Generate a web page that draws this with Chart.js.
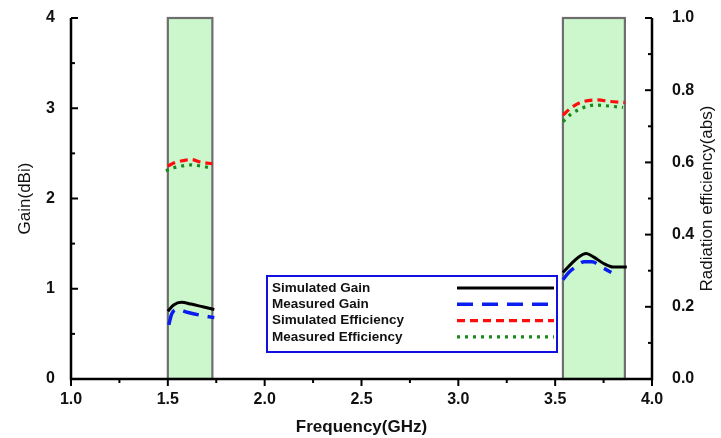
<!DOCTYPE html>
<html><head><meta charset="utf-8">
<script src="https://cdn.jsdelivr.net/npm/chart.js@4"></script>
<style>html,body{margin:0;padding:0;background:#fff}#wrap{width:721px;height:438px}</style>
</head><body><div id="wrap"><canvas id="c" width="721" height="438"></canvas></div>
<script>
const xTicks = [1.0, 1.5, 2.0, 2.5, 3.0, 3.5, 4.0];
const gainTicks = [0, 1, 2, 3, 4];
const effTicks = [0.0, 0.2, 0.4, 0.6, 0.8, 1.0];
const bands = [[1.5, 1.73], [3.54, 3.86]];
const xTitle = 'Frequency(GHz)';
const yTitle = 'Gain(dBi)';
const y2Title = 'Radiation efficiency(abs)';
// band 1
const simGainX1 = [1.50, 1.53, 1.57, 1.62, 1.68, 1.74];
const simGainY1 = [0.75, 0.82, 0.85, 0.83, 0.80, 0.77];
const measGainX1 = [1.505, 1.52, 1.55, 1.60, 1.66, 1.74];
const measGainY1 = [0.60, 0.72, 0.77, 0.74, 0.71, 0.68];
const simEffX1 = [1.50, 1.54, 1.58, 1.62, 1.67, 1.73];
const simEffY1 = [0.590, 0.600, 0.605, 0.608, 0.601, 0.596];
const measEffX1 = [1.49, 1.53, 1.57, 1.62, 1.67, 1.71];
const measEffY1 = [0.577, 0.585, 0.590, 0.593, 0.590, 0.586];
// band 2
const simGainX2 = [3.54, 3.58, 3.62, 3.66, 3.70, 3.75, 3.80, 3.87];
const simGainY2 = [1.18, 1.27, 1.35, 1.39, 1.35, 1.28, 1.24, 1.24];
const measGainX2 = [3.54, 3.57, 3.61, 3.65, 3.69, 3.74, 3.79];
const measGainY2 = [1.10, 1.18, 1.25, 1.30, 1.30, 1.24, 1.18];
const simEffX2 = [3.54, 3.58, 3.63, 3.68, 3.72, 3.78, 3.86];
const simEffY2 = [0.731, 0.750, 0.766, 0.772, 0.773, 0.769, 0.766];
const measEffX2 = [3.54, 3.58, 3.62, 3.67, 3.71, 3.76, 3.82, 3.85];
const measEffY2 = [0.713, 0.733, 0.746, 0.756, 0.759, 0.757, 0.754, 0.752];

const names = ['Simulated Gain', 'Measured Gain', 'Simulated Efficiency', 'Measured Efficiency'];
const colors = ['#000000', '#0a1ef0', '#ff0d0d', '#1a8a1a'];
const dashes = [[], [16, 9], [8, 5], [3, 5]];
const widths = [3, 3.5, 3.2, 3.2];

const pts = (xs, ys) => xs.map((x, i) => ({x, y: ys[i]}));
const FONT = '"Liberation Sans", Arial, sans-serif';

function ds(idx, data, axis) {
  return {label: names[idx], data, yAxisID: axis, borderColor: colors[idx], borderDash: dashes[idx],
    borderWidth: widths[idx], pointRadius: 0, tension: 0.4, cubicInterpolationMode: 'monotone', fill: false};
}

const bandPlugin = {
  id: 'bands',
  beforeDatasetsDraw(chart) {
    const {ctx, chartArea: a, scales: {x}} = chart;
    ctx.save();
    bands.forEach(([b0, b1]) => {
      const x0 = x.getPixelForValue(b0), x1 = x.getPixelForValue(b1);
      ctx.fillStyle = '#ccf7cc';
      ctx.fillRect(x0, a.top, x1 - x0, a.bottom - a.top);
      ctx.strokeStyle = '#6e6e6e'; ctx.lineWidth = 2.2;
      ctx.strokeRect(x0, a.top, x1 - x0, a.bottom - a.top);
    });
    ctx.restore();
  },
  afterDatasetsDraw(chart) {
    const {ctx, chartArea: a, scales: {x, y, y2}} = chart;
    ctx.save();
    ctx.strokeStyle = '#000'; ctx.lineWidth = 2.5;
    ctx.beginPath();
    ctx.moveTo(a.left, a.top); ctx.lineTo(a.left, a.bottom); ctx.lineTo(a.right, a.bottom); ctx.lineTo(a.right, a.top);
    ctx.stroke();
    ctx.lineWidth = 2;
    for (let v = 1.0; v <= 4.0001; v += 0.25) {
      const px = x.getPixelForValue(v);
      const major = Math.abs(v * 2 - Math.round(v * 2)) < 1e-6;
      ctx.beginPath(); ctx.moveTo(px, a.bottom); ctx.lineTo(px, a.bottom + (major ? 7 : 4)); ctx.stroke();
    }
    for (let v = 0; v <= 4.0001; v += 0.5) {
      const py = y.getPixelForValue(v);
      const major = Math.abs(v - Math.round(v)) < 1e-6;
      ctx.beginPath(); ctx.moveTo(a.left, py); ctx.lineTo(a.left + (major ? 7 : 4), py); ctx.stroke();
    }
    for (let v = 0; v <= 1.0001; v += 0.1) {
      const py = y2.getPixelForValue(v);
      const major = Math.round(v * 10) % 2 === 0;
      ctx.beginPath(); ctx.moveTo(a.right, py); ctx.lineTo(a.right - (major ? 7 : 4), py); ctx.stroke();
    }
    const midY = (a.top + a.bottom) / 2;
    ctx.fillStyle = '#111'; ctx.textAlign = 'center'; ctx.textBaseline = 'middle';
    ctx.font = '17px ' + FONT;
    [[25, yTitle], [707, y2Title]].forEach(([tx, t]) => {
      ctx.save(); ctx.translate(tx, midY); ctx.rotate(-Math.PI / 2); ctx.fillText(t, 0, 0); ctx.restore();
    });
    const lx = 267, ly = 276, lw = 290, lh = 76;
    ctx.fillStyle = '#fff'; ctx.fillRect(lx, ly, lw, lh);
    ctx.strokeStyle = '#1010e0'; ctx.lineWidth = 2; ctx.strokeRect(lx, ly, lw, lh);
    ctx.font = 'bold 13.5px ' + FONT; ctx.textBaseline = 'middle'; ctx.textAlign = 'left';
    names.forEach((n, i) => {
      const ry = 288 + i * 16.3;
      ctx.fillStyle = '#111'; ctx.fillText(n, lx + 5, ry);
      ctx.strokeStyle = colors[i]; ctx.lineWidth = widths[i]; ctx.setLineDash(dashes[i]);
      ctx.beginPath(); ctx.moveTo(457, ry); ctx.lineTo(554, ry); ctx.stroke();
      ctx.setLineDash([]);
    });
    ctx.restore();
  }
};

const hiddenGrid = len => ({display: true, drawOnChartArea: false, drawTicks: true, tickLength: len, tickColor: 'rgba(0,0,0,0)', color: 'rgba(0,0,0,0)'});

new Chart(document.getElementById('c'), {
  type: 'line',
  data: {datasets: [
    ds(0, pts(simGainX1, simGainY1), 'y'), ds(0, pts(simGainX2, simGainY2), 'y'),
    ds(1, pts(measGainX1, measGainY1), 'y'), ds(1, pts(measGainX2, measGainY2), 'y'),
    ds(2, pts(simEffX1, simEffY1), 'y2'), ds(2, pts(simEffX2, simEffY2), 'y2'),
    ds(3, pts(measEffX1, measEffY1), 'y2'), ds(3, pts(measEffX2, measEffY2), 'y2')
  ]},
  options: {
    responsive: false, animation: false, devicePixelRatio: 1,
    layout: {padding: {top: 18, left: 0, right: 0, bottom: 0}},
    plugins: {legend: {display: false}, tooltip: {enabled: false}},
    scales: {
      x: {type: 'linear', min: 1, max: 4, grid: {display: false, drawTicks: false}, border: {display: false},
        afterBuildTicks: s => { s.ticks = xTicks.map(v => ({value: v})); },
        afterFit: s => { s.height = 59; },
        ticks: {padding: 11, color: '#111', font: {family: FONT, size: 16, weight: 'bold'}, callback: v => v.toFixed(1)},
        title: {display: true, text: xTitle, color: '#111', padding: {top: 8, bottom: 0}, font: {family: FONT, size: 17, weight: 'bold'}}},
      y: {position: 'left', min: 0, max: 4, grid: hiddenGrid(12), border: {display: false},
        afterBuildTicks: s => { s.ticks = gainTicks.map(v => ({value: v})); },
        afterFit: s => { s.width = 71; },
        ticks: {padding: 4, color: '#111', font: {family: FONT, size: 16, weight: 'bold'}}},
      y2: {position: 'right', min: 0, max: 1, grid: hiddenGrid(16), border: {display: false},
        afterBuildTicks: s => { s.ticks = effTicks.map(v => ({value: v})); },
        afterFit: s => { s.width = 69; },
        ticks: {padding: 4, color: '#111', font: {family: FONT, size: 16, weight: 'bold'}, callback: v => v.toFixed(1)}}
    }
  },
  plugins: [bandPlugin]
});
</script></body></html>
